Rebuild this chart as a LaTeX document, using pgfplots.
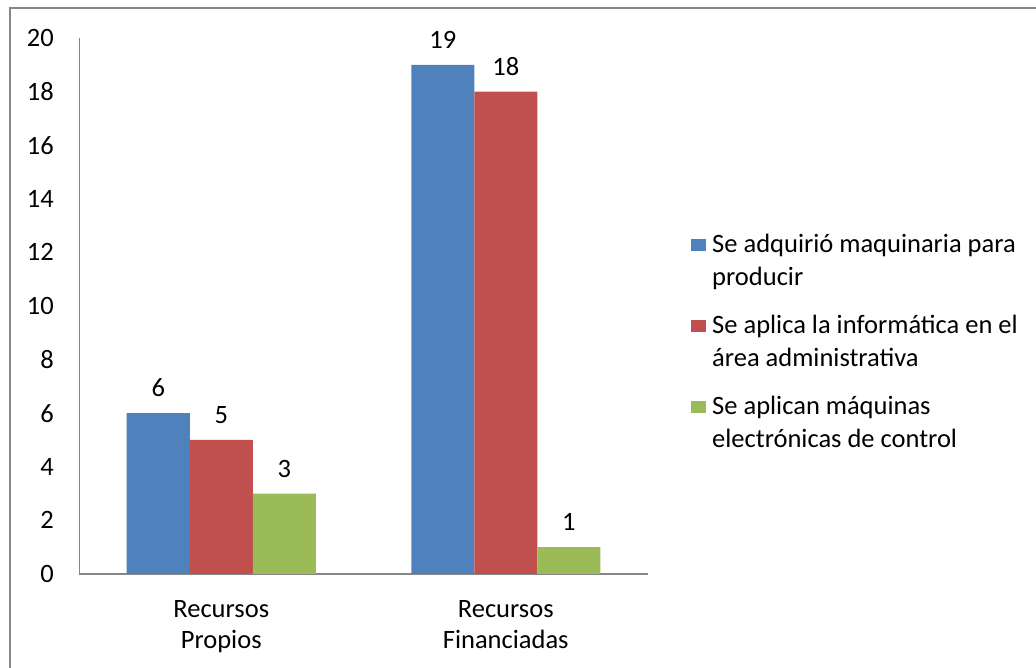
\documentclass[border=0pt]{standalone}
\usepackage{pgfplots}
\pgfplotsset{compat=1.18}
\usepackage{fontspec}
\setmainfont{Carlito}
\definecolor{cblue}{HTML}{4F81BD}
\definecolor{cred}{HTML}{C0504D}
\definecolor{cgreen}{HTML}{9BBB59}
\definecolor{caxis}{HTML}{868686}
\begin{document}
\begin{tikzpicture}[x=1pt,y=1pt]
\useasboundingbox (0,0) rectangle (1036,668);
\draw[caxis, line width=1.5pt] (10,0) -- (10,660) -- (1036,660);
\begin{axis}[
  at={(79pt,94pt)}, anchor=south west,
  scale only axis, width=569pt, height=536pt,
  ybar=0pt, bar width=63pt,
  xmin=-0.5, xmax=1.5, ymin=0, ymax=20,
  xtick={0,1}, xticklabels={{Recursos\\Propios},{Recursos\\Financiadas}},
  ytick={0,2,...,20},
  major tick length=0pt,
  axis x line=bottom, axis y line=left,
  x axis line style={-, draw=caxis, line width=1.6pt},
  y axis line style={-, draw=caxis, line width=1pt},
  /pgf/number format/assume math mode=true,
  tick label style={font=\fontsize{26.5}{31}\selectfont, text=black},
  yticklabel style={inner sep=0pt, xshift=-25pt},
  xticklabel style={align=center, inner sep=0pt, yshift=-26pt},
  nodes near coords,
  every node near coord/.append style={font=\fontsize{26.5}{30}\selectfont, text=black, anchor=south, inner sep=0pt, yshift=16pt},
  legend style={at={(1.0756,0.634)}, anchor=north west, draw=none, inner sep=0pt,
    font=\fontsize{26.5}{33}\selectfont, row sep=28pt,
    nodes={align=left, inner sep=0pt, anchor=west},
    /tikz/every odd column/.append style={column sep=6pt}},
  legend cell align=left,
  legend image code/.code={\fill[#1] (0pt,10pt) rectangle (15pt,22pt);},
]
\addplot[fill=cblue, draw=none] coordinates {(0,6) (1,19)};
\addplot[fill=cred, draw=none] coordinates {(0,5) (1,18)};
\addplot[fill=cgreen, draw=none] coordinates {(0,3) (1,1)};
\legend{{Se adquirió maquinaria para\\producir},{Se aplica la informática en el\\área administrativa},{Se aplican máquinas\\electrónicas de control}}
\end{axis}
\end{tikzpicture}
\end{document}
